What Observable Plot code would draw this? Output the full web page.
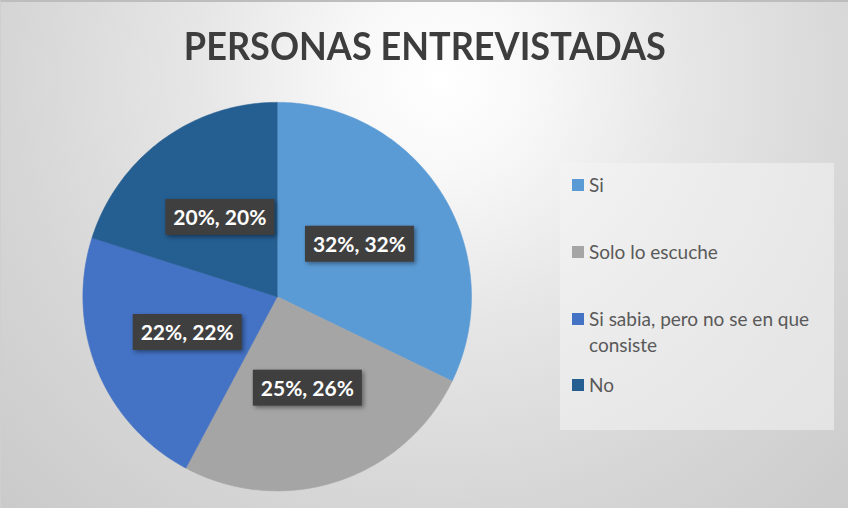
<!DOCTYPE html>
<html>
<head>
<meta charset="utf-8">
<script src="https://cdn.jsdelivr.net/npm/d3@7"></script>
<script src="https://cdn.jsdelivr.net/npm/@observablehq/plot@0.6"></script>
<style>
  body { margin: 0; }
  #chart {
    position: relative; width: 848px; height: 508px; overflow: hidden;
    box-sizing: border-box; border-top: 2px solid #bdbdbd; border-left: 1px solid #cfcfcf;
    background: radial-gradient(circle farthest-corner at 52% 15%, #ffffff 0%, #f8f8f8 15%, #e6e6e6 40%, #d6d6d6 70%, #cacaca 100%);
    font-family: Lato, "Open Sans", sans-serif;
  }
  #chart svg { position: absolute; left: -1px; top: -2px; }
  #title {
    position: absolute; left: 0; width: 848px; top: 23.6px; text-align: center;
    font-size: 38px; line-height: 38px; font-weight: bold; color: #3d3d3d; white-space: nowrap;
  }
  #title span { display: inline-block; transform-origin: center; }
  #legend {
    position: absolute; left: 559px; top: 161px; width: 274px; height: 267px;
    background: rgba(244,244,244,0.55);
  }
  .li { position: absolute; left: 0; color: #595959; font-size: 19px; line-height: 26px; }
  .sw { position: absolute; left: 12px; width: 12px; height: 12px; }
  .lt { position: absolute; left: 29px; width: 246px; }
</style>
</head>
<body>
<div id="chart"><div id="title"><span></span></div><div id="legend"></div></div>
<script>
const title = "PERSONAS ENTREVISTADAS";
const categories = ["Si", "Solo lo escuche", "Si sabia, pero no se en que consiste", "No"];
const values = [32, 25.5, 22, 20];
const sliceLabels = ["32%, 32%", "25%, 26%", "22%, 22%", "20%, 20%"];
const colors = ["#5B9BD5", "#A5A5A5", "#4472C4", "#255E91"];

const chart = document.getElementById("chart");

// pie geometry in pixels (layout)
const cx = 277, cy = 296.5, R = 194.5;

const arcs = d3.pie().sort(null).value((d, i) => values[i])(categories);
const polyRows = [];
arcs.forEach((a, i) => {
  const cat = categories[i];
  polyRows.push({cat, x: 0, y: 0});
  const n = Math.max(2, Math.ceil((a.endAngle - a.startAngle) / (Math.PI / 180)));
  for (let k = 0; k <= n; k++) {
    const t = a.startAngle + (a.endAngle - a.startAngle) * k / n;
    polyRows.push({cat, x: Math.sin(t), y: Math.cos(t)});
  }
  polyRows.push({cat, x: 0, y: 0});
});
const labelRows = arcs.map((a, i) => {
  const m = (a.startAngle + a.endAngle) / 2;
  return {cat: categories[i], label: sliceLabels[i], x: 0.5 * Math.sin(m), y: 0.5 * Math.cos(m)};
});

const plot = Plot.plot({
  width: 848, height: 508,
  x: {domain: [-1, 1], range: [cx - R, cx + R], axis: null},
  y: {domain: [-1, 1], range: [cy + R, cy - R], axis: null},
  color: {domain: categories, range: colors},
  style: {background: "transparent", overflow: "visible"},
  marks: [
    Plot.line(polyRows, {x: "x", y: "y", z: "cat", fill: "cat", stroke: "cat", strokeWidth: 0.6, curve: "linear"}),
    Plot.text(labelRows, {x: "x", y: "y", text: "label", fill: "white", fontSize: 21, fontWeight: "bold", fontFamily: "Lato"})
  ]
});
chart.appendChild(plot);

// dark boxes behind the slice labels
plot.querySelectorAll('g[aria-label="text"] text').forEach(t => {
  const bb = t.getBBox();
  const r = document.createElementNS("http://www.w3.org/2000/svg", "rect");
  const w = bb.width + 16, h = 36;
  const mx = bb.x + bb.width / 2, my = bb.y + bb.height / 2 + 0.5;
  r.setAttribute("x", mx - w / 2); r.setAttribute("y", my - h / 2);
  r.setAttribute("width", w); r.setAttribute("height", h);
  r.setAttribute("fill", "#3f3f3f");
  r.setAttribute("style", "filter: drop-shadow(2px 2px 2px rgba(0,0,0,0.4))");
  if (t.getAttribute("transform")) r.setAttribute("transform", t.getAttribute("transform"));
  t.parentNode.insertBefore(r, t);
});

// title
const ts = document.querySelector("#title span");
ts.textContent = title;
const tw = ts.getBoundingClientRect().width;
ts.style.transform = `scaleX(${482 / tw})`;

// legend
const legend = document.getElementById("legend");
const rowCenters = [22, 89, 156, 222];
categories.forEach((c, i) => {
  const li = document.createElement("div");
  li.className = "li";
  li.style.top = (rowCenters[i] - 13) + "px";
  li.style.width = "274px";
  const sw = document.createElement("div");
  sw.className = "sw"; sw.style.background = colors[i]; sw.style.top = "7px";
  const lt = document.createElement("div");
  lt.className = "lt"; lt.textContent = c;
  li.appendChild(sw); li.appendChild(lt);
  legend.appendChild(li);
});
</script>
</body>
</html>
